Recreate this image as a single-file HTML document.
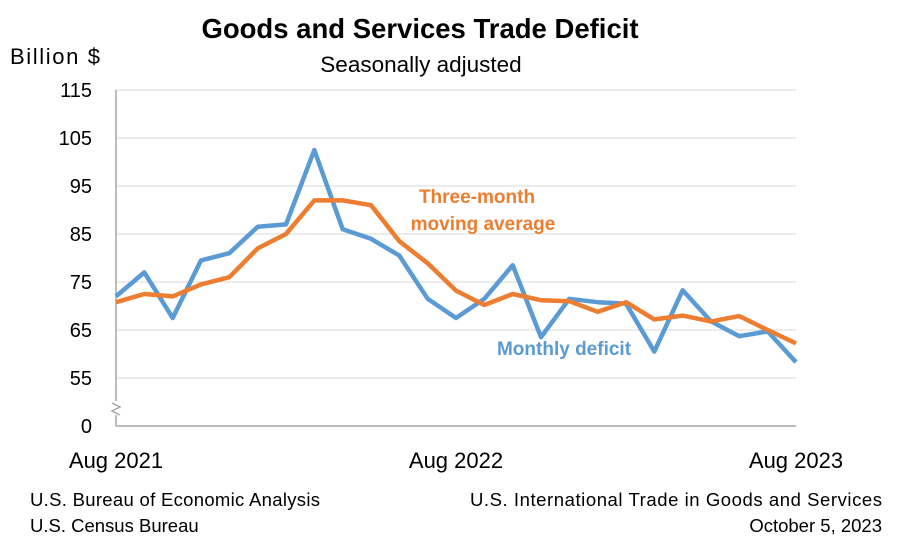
<!DOCTYPE html>
<html><head><meta charset="utf-8"><style>
body{margin:0;background:#fff;}
svg{display:block;font-family:"Liberation Sans",sans-serif;}
</style></head><body>
<svg id="chart" width="909" height="548" viewBox="0 0 909 548">
<text x="420" y="38" text-anchor="middle" font-size="27.5" font-weight="bold" fill="#000">Goods and Services Trade Deficit</text>
<text x="421" y="72" text-anchor="middle" font-size="22.5" fill="#000">Seasonally adjusted</text>
<text x="10" y="64" font-size="22" textLength="90" fill="#000">Billion $</text>
<g id="grid"></g>
<g id="yticks"></g>
<g id="axes"></g>
<g id="xticks"></g>
<g id="series"></g>
<text x="477" y="203" text-anchor="middle" font-size="19" font-weight="bold" fill="#ED7D31">Three-month</text>
<text x="483" y="230" text-anchor="middle" font-size="19" font-weight="bold" fill="#ED7D31">moving average</text>
<text x="564" y="355" text-anchor="middle" font-size="19" font-weight="bold" fill="#5B9BD5">Monthly deficit</text>
<text x="30" y="506" font-size="18.5" textLength="290" fill="#000">U.S. Bureau of Economic Analysis</text>
<text x="30" y="532" font-size="18.5" fill="#000">U.S. Census Bureau</text>
<text x="882" y="506" text-anchor="end" font-size="18.5" textLength="412" fill="#000">U.S. International Trade in Goods and Services</text>
<text x="882" y="532" text-anchor="end" font-size="18.5" fill="#000">October 5, 2023</text>
</svg>
<script>
const months = ["Aug 2021","Sep 2021","Oct 2021","Nov 2021","Dec 2021","Jan 2022","Feb 2022","Mar 2022","Apr 2022","May 2022","Jun 2022","Jul 2022","Aug 2022","Sep 2022","Oct 2022","Nov 2022","Dec 2022","Jan 2023","Feb 2023","Mar 2023","Apr 2023","May 2023","Jun 2023","Jul 2023","Aug 2023"];
const monthly = [72,77,67.5,79.5,81,86.5,87,102.5,86,84,80.5,71.5,67.5,71.5,78.5,63.5,71.5,70.8,70.5,60.5,73.3,66.8,63.7,64.7,58.3];
const movingAvg = [70.8,72.5,72,74.5,76,82,85,92,92,91,83.5,78.9,73.2,70.2,72.5,71.2,71,68.8,70.8,67.2,68,66.8,67.9,65,62.2];
const yTicks = [115,105,95,85,75,65,55];
const xLabels = ["Aug 2021","Aug 2022","Aug 2023"];
const xLabelIdx = [0,12,24];

const ns="http://www.w3.org/2000/svg";
const X0=116,X1=796;
function xs(i){return X0+(X1-X0)*i/(months.length-1);}
function ys(v){return 90+(115-v)*4.8;}
function mk(tag,attrs,parent){const e=document.createElementNS(ns,tag);for(const k in attrs)e.setAttribute(k,attrs[k]);document.getElementById(parent).appendChild(e);return e;}

yTicks.forEach(v=>{
  const g=mk('line',{x1:X0,x2:X1,y1:ys(v),y2:ys(v),stroke:'#d9d9d9','stroke-width':1},'grid');
  
  
  const t=mk('text',{x:92,y:ys(v)+7,'text-anchor':'end','font-size':20,fill:'#000'},'yticks');
  t.textContent=v;
  
  
});
const z=mk('text',{x:92,y:433,'text-anchor':'end','font-size':20,fill:'#000'},'yticks');
z.textContent='0';



const ya=mk('path',{d:`M${X0} 90 V401 M${X0} 415 V426`,stroke:'#a6a6a6','stroke-width':1.5,fill:'none'},'axes');


const br=mk('path',{d:`M${X0-4} 403 l8 4 l-8 4 l8 4`,stroke:'#a6a6a6','stroke-width':1.5,fill:'none'},'axes');


const xa=mk('line',{x1:X0,x2:X1,y1:426,y2:426,stroke:'#a6a6a6','stroke-width':1.5},'axes');



xLabelIdx.forEach((idx,k)=>{
  const t=mk('text',{x:xs(idx),y:468,'text-anchor':'middle','font-size':22,fill:'#000'},'xticks');
  t.textContent=xLabels[k];
  
  
});

function line(vals,color,name){
  const d=vals.map((v,i)=>(i?'L':'M')+xs(i).toFixed(1)+' '+ys(v).toFixed(1)).join(' ');
  const p=mk('path',{d:d,stroke:color,'stroke-width':4.5,fill:'none','stroke-linejoin':'round'},'series');
  
  
}
line(monthly,'#5B9BD5','monthly-deficit-line');
line(movingAvg,'#ED7D31','moving-average-line');
</script>
</body></html>
